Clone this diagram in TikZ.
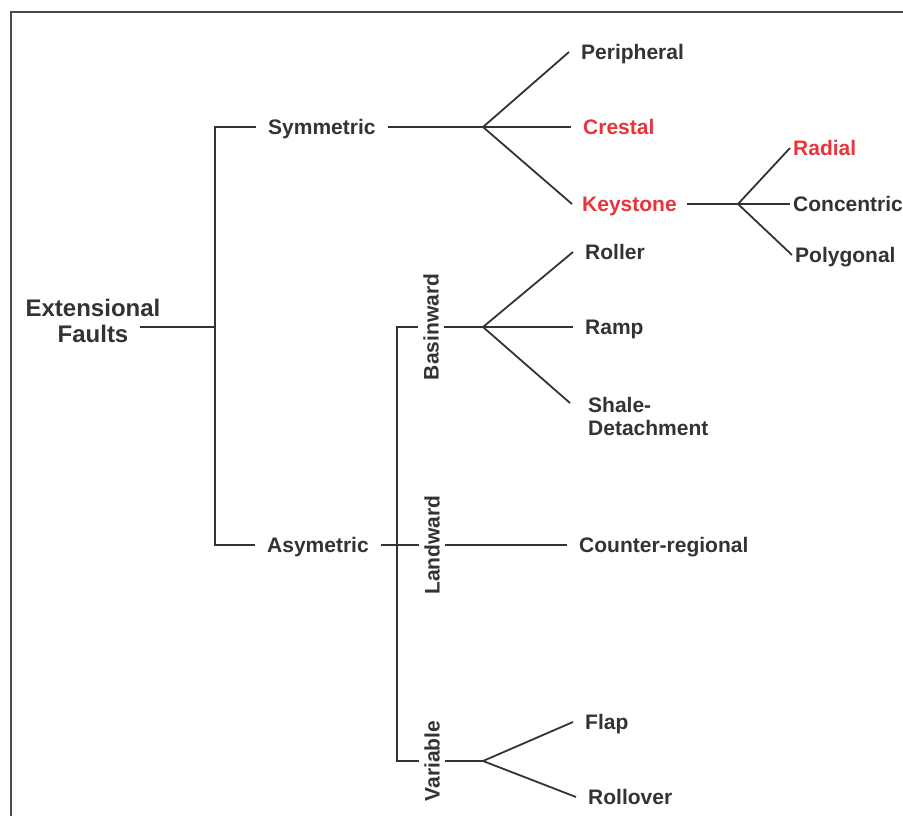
\documentclass[tikz,border=0pt]{standalone}
\usepackage{fontspec}
\setmainfont{Liberation Sans}
\usetikzlibrary{calc}
\definecolor{ink}{HTML}{333333}
\definecolor{hot}{HTML}{E8343C}
\definecolor{frame}{HTML}{4A4A4A}

\begin{document}
\begin{tikzpicture}[
x=1pt,y=-1pt,
txt/.style={
  text=ink,
  font=\fontsize{21}{23}\selectfont\bfseries},
lbl/.style={
  txt,
  anchor=west,
  inner xsep=12pt,
  inner ysep=2pt,
  text height=15.5pt,
  text depth=0pt},
hotlbl/.style={lbl, text=hot},
side/.style={
  txt,
  rotate=90,
  inner xsep=2pt,
  inner ysep=5pt,
  fill=white},
link/.style={draw=ink, line width=1.8pt}
]
\useasboundingbox (0,0) rectangle (903,816);
\clip (0,0) rectangle (903,816);
\draw[draw=frame, line width=1.6pt] (11,12) rectangle (940,860);

\node[txt, align=center, font=\fontsize{24}{26}\selectfont\bfseries] (ext) at (93,321) {Extensional\\Faults};
\node[lbl] (sym) at (256,127) {Symmetric};
\node[lbl] (asym) at (255,545) {Asymetric};
\node[lbl] (peri) at (569,52) {Peripheral};
\node[hotlbl] (crest) at (571,127) {Crestal};
\node[hotlbl, inner xsep=10pt] (key) at (572,204) {Keystone};
\node[hotlbl, inner xsep=3pt] (radial) at (790,148) {Radial};
\node[lbl, inner xsep=3pt] (conc) at (790,204) {Concentric};
\node[lbl, inner xsep=3pt] (poly) at (792,255) {Polygonal};
\node[side] (basin) at (431,327) {Basinward};
\node[side] (land) at (432,545) {Landward};
\node[side] (var) at (432,761) {Variable};
\node[lbl] (roller) at (573,252) {Roller};
\node[lbl] (ramp) at (573,327) {Ramp};
\node[txt, anchor=west, align=left, inner xsep=12pt] (shale) at (576,416) {Shale-\\Detachment};
\node[lbl] (ctr) at (567,545) {Counter-regional};
\node[lbl] (flap) at (573,722) {Flap};
\node[lbl] (roll) at (576,797) {Rollover};

\coordinate (ext-out) at (140,327);
\coordinate (trunk) at (215,327);
\coordinate (sym-fork) at (483,127);
\coordinate (key-fork) at (738,204);
\coordinate (branch) at (397,545);
\coordinate (bas-fork) at (483,327);
\coordinate (shale-in) at (570,403);
\coordinate (var-fork) at (483,761);

\draw[link] (ext-out) -- (trunk);
\draw[link] (sym.west) -| (trunk) |- (asym.west);
\draw[link] (sym.east) -- (sym-fork);
\foreach \Leaf in {peri,crest,key}
  \draw[link] (sym-fork) -- (\Leaf.west);
\draw[link] (key.east) -- (key-fork);
\foreach \Leaf in {radial,conc,poly}
  \draw[link] (key-fork) -- (\Leaf.west);
\draw[link] (asym.east) -- (land);
\draw[link] (land) -- (ctr.west);
\draw[link] (basin) -| (branch) |- (var);
\draw[link] (basin) -- (bas-fork);
\foreach \Leaf in {roller,ramp}
  \draw[link] (bas-fork) -- (\Leaf.west);
\draw[link] (bas-fork) -- (shale-in);
\draw[link] (var) -- (var-fork);
\foreach \Leaf in {flap,roll}
  \draw[link] (var-fork) -- (\Leaf.west);
\end{tikzpicture}
\end{document}
